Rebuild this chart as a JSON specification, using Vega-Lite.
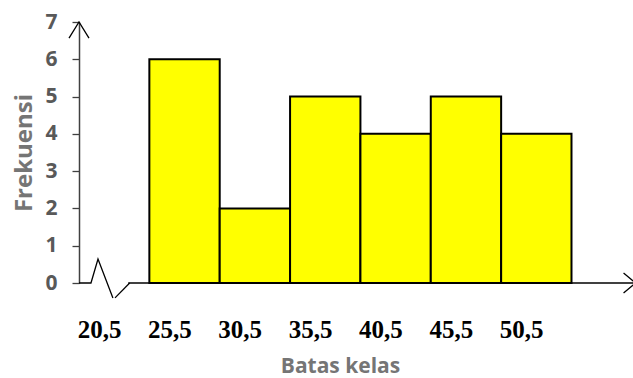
{
  "$schema": "https://vega.github.io/schema/vega-lite/v6.json",
  "width": 553,
  "height": 261,
  "autosize": {"type": "none"},
  "padding": {"left": 79, "top": 22, "right": 1, "bottom": 95},
  "background": "white",
  "config": {
    "view": {"stroke": null},
    "axisX": {
      "domain": false, "ticks": false, "grid": false,
      "labelFont": "Liberation Serif", "labelFontWeight": "bold", "labelFontSize": 25,
      "labelColor": "#000000", "labelPadding": 46, "labelBaseline": "middle",
      "labelFlush": false, "labelOverlap": false, "labelOffset": 20,
      "titleFont": "Open Sans", "titleFontWeight": "bold",
      "titleFontSize": 21, "titleColor": "#757575",
      "titleX": 261, "titleY": 83, "titleBaseline": "middle", "titleAnchor": "middle"
    },
    "axisY": {
      "domain": true, "domainColor": "#404040", "domainWidth": 1.5,
      "ticks": true, "tickColor": "#404040", "tickSize": 7, "tickWidth": 1.3,
      "grid": false, "labelOverlap": false,
      "labelFont": "Open Sans", "labelFontWeight": "bold", "labelFontSize": 21,
      "labelColor": "#595959", "labelPadding": 15,
      "titleFont": "Open Sans", "titleFontWeight": "bold",
      "titleFontSize": 24, "titleColor": "#757575", "titlePadding": 8
    }
  },
  "datasets": {
    "bars": [
      {"lo": 25.5, "hi": 30.5, "f": 6},
      {"lo": 30.5, "hi": 35.5, "f": 2},
      {"lo": 35.5, "hi": 40.5, "f": 5},
      {"lo": 40.5, "hi": 45.5, "f": 4},
      {"lo": 45.5, "hi": 50.5, "f": 5},
      {"lo": 50.5, "hi": 55.5, "f": 4}
    ],
    "lines": [
      {"seg": "a", "o": 1, "x": 20.5, "y": 0},
      {"seg": "a", "o": 2, "x": 21.35, "y": 0},
      {"seg": "a", "o": 3, "x": 21.85, "y": 0.64},
      {"seg": "a", "o": 4, "x": 22.91, "y": -0.4},
      {"seg": "b", "o": 1, "x": 23.06, "y": -0.4},
      {"seg": "b", "o": 2, "x": 24.1, "y": 0},
      {"seg": "c", "o": 1, "x": 24.0, "y": 0},
      {"seg": "c", "o": 2, "x": 59.9, "y": 0},
      {"seg": "d", "o": 1, "x": 59.2, "y": 0.27},
      {"seg": "d", "o": 2, "x": 60.06, "y": 0},
      {"seg": "d", "o": 3, "x": 59.2, "y": -0.27},
      {"seg": "e", "o": 1, "x": 19.79, "y": 6.57},
      {"seg": "e", "o": 2, "x": 20.5, "y": 7.0},
      {"seg": "e", "o": 3, "x": 21.21, "y": 6.57}
    ]
  },
  "layer": [
    {
      "data": {"name": "bars"},
      "mark": {"type": "rect", "fill": "#FFFF00", "stroke": "#000000", "strokeWidth": 2},
      "encoding": {
        "x": {
          "field": "lo", "type": "quantitative",
          "scale": {"domain": [20.5, 59.8], "nice": false, "zero": false},
          "axis": {
            "values": [20.5, 25.5, 30.5, 35.5, 40.5, 45.5, 50.5],
            "labelExpr": "replace(format(datum.value, '.1f'), '.', ',')",
            "title": "Batas kelas", "labelOffset": 20
          }
        },
        "x2": {"field": "hi"},
        "y": {
          "field": "f", "type": "quantitative",
          "scale": {"domain": [0, 7], "nice": false},
          "axis": {"values": [0, 1, 2, 3, 4, 5, 6, 7], "title": "Frekuensi"}
        },
        "y2": {"datum": 0}
      }
    },
    {
      "data": {"name": "lines"},
      "mark": {"type": "line", "color": "#000000", "strokeWidth": 1.3},
      "encoding": {
        "x": {"field": "x", "type": "quantitative", "axis": {"values": [20.5, 25.5, 30.5, 35.5, 40.5, 45.5, 50.5], "labelExpr": "replace(format(datum.value, '.1f'), '.', ',')", "title": "Batas kelas", "labelOffset": 20}},
        "y": {"field": "y", "type": "quantitative", "axis": {"values": [0, 1, 2, 3, 4, 5, 6, 7], "title": "Frekuensi"}},
        "detail": {"field": "seg"},
        "order": {"field": "o", "type": "quantitative"}
      }
    }
  ]
}
